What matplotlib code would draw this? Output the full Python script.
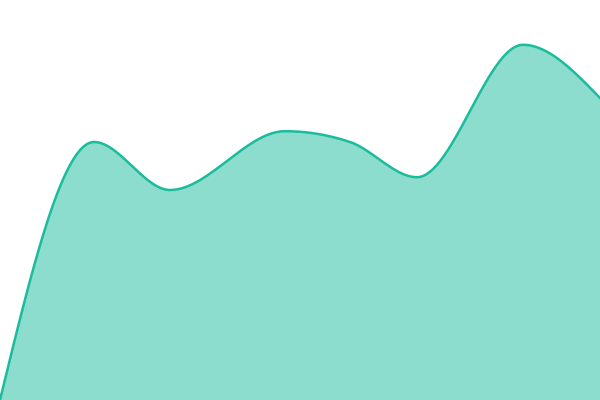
import numpy as np
import matplotlib
matplotlib.use("Agg")
import matplotlib.pyplot as plt

# data points (x position, value out of 100)
xs = [0, 94, 170, 285, 350, 417, 523, 600]
values = [0, 64.5, 52.5, 67.2, 64.5, 55.7, 88.8, 75.5]

LINE_COLOR = "#1abc9c"


def monotone_x(x, y, n=60):
    """d3 curveMonotoneX style interpolation"""
    x = np.asarray(x, float)
    y = np.asarray(y, float)
    h = np.diff(x)
    s = np.diff(y) / h
    t = np.zeros(len(x))
    for i in range(1, len(x) - 1):
        p = (s[i - 1] * h[i] + s[i] * h[i - 1]) / (h[i - 1] + h[i])
        t[i] = (np.sign(s[i - 1]) + np.sign(s[i])) * min(abs(s[i - 1]), abs(s[i]), 0.5 * abs(p))
    t[0] = (3 * s[0] - t[1]) / 2
    t[-1] = (3 * s[-1] - t[-2]) / 2
    px, py = [], []
    for i in range(len(x) - 1):
        u = np.linspace(0, 1, n)
        dx = h[i] / 3
        p0, p1 = y[i], y[i] + dx * t[i]
        p2, p3 = y[i + 1] - dx * t[i + 1], y[i + 1]
        bx = x[i] + h[i] * u  # control points evenly spaced in x
        by = (1 - u) ** 3 * p0 + 3 * (1 - u) ** 2 * u * p1 + 3 * (1 - u) * u ** 2 * p2 + u ** 3 * p3
        px.extend(bx)
        py.extend(by)
    return np.array(px), np.array(py)


cx, cy = monotone_x(xs, values)

fig = plt.figure(figsize=(6, 4), dpi=100)
ax = fig.add_axes([0, 0, 1, 1])
ax.fill_between(cx, cy, 0, color=LINE_COLOR, alpha=0.5, linewidth=0)
ax.plot(cx, cy, color=LINE_COLOR, linewidth=1.8)
ax.set_xlim(0, 600)
ax.set_ylim(0, 100)
ax.axis("off")
fig.savefig("out.png", dpi=100)
